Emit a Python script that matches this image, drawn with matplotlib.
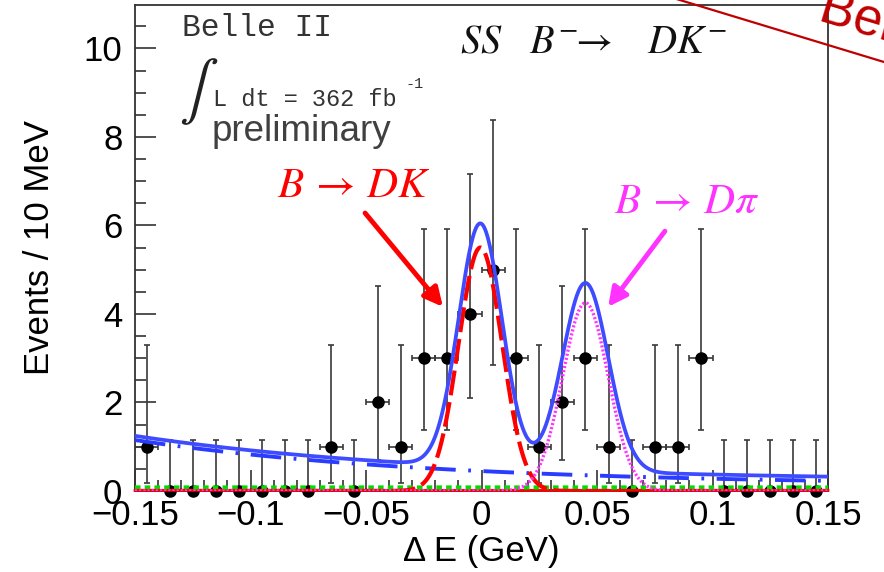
import numpy as np
import matplotlib
matplotlib.use("Agg")
import matplotlib.pyplot as plt
from matplotlib.ticker import MultipleLocator, FuncFormatter
from matplotlib.lines import Line2D

plt.rcParams["font.family"] = ["Liberation Sans", "DejaVu Sans"]
plt.rcParams["mathtext.fontset"] = "stix"
plt.rcParams["lines.scale_dashes"] = False

# binned data, 10 MeV bins
delta_e = [-0.145, -0.135, -0.125, -0.115, -0.105, -0.095, -0.085, -0.075,
           -0.065, -0.055, -0.045, -0.035, -0.025, -0.015, -0.005, 0.005,
           0.015, 0.025, 0.035, 0.045, 0.055, 0.065, 0.075, 0.085, 0.095,
           0.105, 0.115, 0.125, 0.135, 0.145]
counts = [1, 0, 0, 0, 0, 0, 0, 0, 1, 0, 2, 1, 3, 3, 4, 5, 3, 1, 2, 3,
          1, 0, 1, 1, 3, 0, 0, 0, 0, 0]
# asymmetric poisson errors, indexed by number of events
err_low_by_n = [0.0, 0.83, 1.29, 1.63, 1.91, 2.16]
err_high_by_n = [1.15, 2.30, 2.64, 2.92, 3.16, 3.38]
half_bin = 0.005

# fit components
bkg_const, bkg_amp, bkg_slope = 0.129, 0.321, 7.72
green_level = 0.08
red_level = 0.015
dk_amp, dk_mean, dk_sigma = 5.5, -0.0005, 0.0094
dpi_amp, dpi_mean, dpi_sigma = 4.25, 0.0450, 0.0099

x = np.linspace(-0.15, 0.15, 1201)
bkg = bkg_const + bkg_amp * np.exp(-bkg_slope * x)
dk = dk_amp * np.exp(-0.5 * ((x - dk_mean) / dk_sigma) ** 2)
dpi = dpi_amp * np.exp(-0.5 * ((x - dpi_mean) / dpi_sigma) ** 2)
flat_green = np.full_like(x, green_level)
flat_red = np.full_like(x, red_level)
total = bkg + flat_green + flat_red + dk + dpi

fig = plt.figure(figsize=(8.84, 5.72), dpi=100)
ax = fig.add_axes([135 / 884, 1 - 491 / 572, 693 / 884, 486 / 572])

yerr = [[err_low_by_n[n] for n in counts], [err_high_by_n[n] for n in counts]]
eb = ax.errorbar(delta_e, counts, yerr=yerr, xerr=half_bin, fmt="o", ms=8,
                 color="black", ecolor="#3a3a3a", elinewidth=1.2, capsize=2.5,
                 capthick=1.2, zorder=3)
eb[0].set_clip_on(False)

ax.plot(x, flat_red, color="#ff0000", lw=2.0, zorder=4, clip_on=False)
ax.plot(x, flat_green, color="#00dd00", lw=3.0, dashes=(4, 3), zorder=4)
ax.plot(x, bkg, color="#2a3cff", lw=2.8, dashes=(22, 9, 2, 9), zorder=5)
ax.plot(x, dk, color="#ff0000", lw=3.0, dashes=(18, 5), zorder=5)
ax.plot(x, dpi, color="#ff33ff", lw=2.4, dashes=(1.5, 1.5), zorder=5)
ax.plot(x, total, color="#3f4bff", lw=2.7, zorder=6)

ax.set_xlim(-0.15, 0.15)
ax.set_ylim(0, 10.98)
ax.xaxis.set_major_locator(MultipleLocator(0.05))
ax.xaxis.set_minor_locator(MultipleLocator(0.01))
ax.yaxis.set_major_locator(MultipleLocator(2))
ax.yaxis.set_minor_locator(MultipleLocator(0.5))
ax.xaxis.set_major_formatter(FuncFormatter(lambda v, p: f"{v:g}".replace("-", "\u2212")))
ax.yaxis.set_major_formatter(FuncFormatter(lambda v, p: f"{v:g}"))
ax.tick_params(which="both", direction="in", top=False, right=False,
               width=1.1, color="#222222", labelsize=25)
ax.tick_params(which="major", length=15)
ax.tick_params(which="minor", length=8)
ax.tick_params(axis="y", pad=9)
ax.tick_params(axis="x", pad=6)
for s in ax.spines.values():
    s.set_linewidth(1.3)
    s.set_color("#333333")

ax.set_xlabel("\u0394 E (GeV)", fontsize=25, labelpad=2)
ax.set_ylabel("Events / 10 MeV", fontsize=25, labelpad=20)

# labels inside the frame
ax.text(0.068, 0.953, "Belle II", transform=ax.transAxes, family="Liberation Mono",
        fontsize=22.5, color="#333333", va="center")
ax.text(0.064, 0.821, r"$\int$", transform=ax.transAxes, fontsize=42,
        color="#222222", va="center")
ax.text(0.1126, 0.792, "L dt = 362 fb", transform=ax.transAxes,
        family="Liberation Mono", fontsize=17, color="#333333", va="baseline")
ax.text(0.39, 0.838, "-1", transform=ax.transAxes, family="Liberation Mono",
        fontsize=11, color="#333333", va="center")
ax.text(0.111, 0.72, "preliminary", transform=ax.transAxes, fontsize=26.5,
        color="#404040", va="baseline")
ax.text(0.469, 0.903, r"$SS\ \ \ B^{-}\!\!\rightarrow\ \ \ DK^{-}$",
        transform=ax.transAxes, fontsize=29, color="#111111", va="baseline")

ax.text(-0.0885, 6.64, r"$B\,\rightarrow\,DK$", fontsize=31, color="#ff0000",
        va="baseline")
ax.annotate("", xy=(-0.0167, 4.16), xytext=(-0.0504, 6.28),
            arrowprops=dict(arrowstyle="-|>", color="#ff0000", lw=3.5,
                            mutation_scale=28, shrinkA=0, shrinkB=0))
ax.text(0.0575, 6.28, r"$B\,\rightarrow\,D\pi$", fontsize=31, color="#ff33ff",
        va="baseline")
ax.annotate("", xy=(0.0548, 4.16), xytext=(0.0794, 5.87),
            arrowprops=dict(arrowstyle="-|>", color="#ff33ff", lw=3.5,
                            mutation_scale=28, shrinkA=0, shrinkB=0))

# slide overlay in the top right corner
fig.add_artist(Line2D([676 / 884, 1.0], [1.002, 1 - 62 / 572], color="#c00000",
                      lw=1.6, transform=fig.transFigure))
fig.text(817 / 884, 1 - 20 / 572, "Belle II", fontsize=37, color="#c00000",
         rotation=-16.7, rotation_mode="anchor", ha="left", va="baseline")

fig.savefig("out.png", dpi=100)
